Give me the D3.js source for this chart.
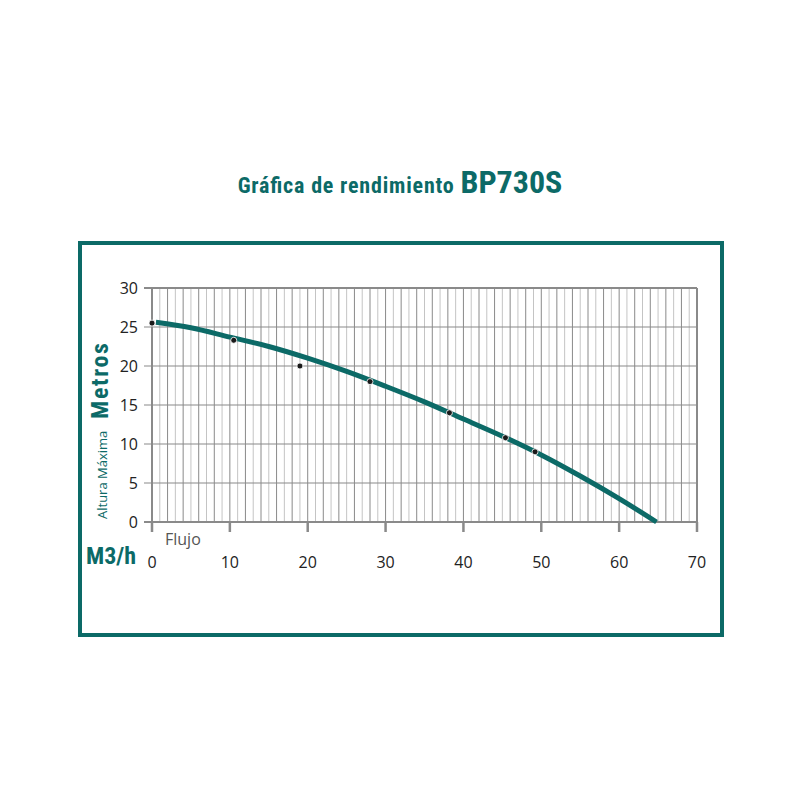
<!DOCTYPE html><html><head><meta charset="utf-8"><script src="https://cdn.jsdelivr.net/npm/d3@7"></script>
<style>body{margin:0;background:#fff}</style></head><body><svg id="c" width="800" height="800"></svg><script>
const curveX=[0.5,5,10,15,20,25,30,35,40,45,50,55,60,64.8];
const curveY=[25.6,24.9,23.7,22.5,21.0,19.3,17.4,15.4,13.2,11.0,8.6,5.9,3.0,0];
const pointX=[0,10.5,19,28,38.2,45.4,49.2];
const pointY=[25.5,23.3,20,18,14,10.8,9];
const xTicks=[0,10,20,30,40,50,60,70];
const yTicks=[0,5,10,15,20,25,30];
const teal="#0c6a67";
const svg=d3.select("#c");
const x=d3.scaleLinear().domain([0,70]).range([152,697]);
const y=d3.scaleLinear().domain([0,30]).range([522,288]);
svg.append("rect").attr("x",80).attr("y",243).attr("width",642).attr("height",392).attr("fill","none").attr("stroke",teal).attr("stroke-width",4);
const t=svg.append("text").attr("x",400).attr("y",193).attr("text-anchor","middle").attr("fill",teal).attr("font-family","Roboto Condensed, Roboto, sans-serif").attr("font-weight","bold");
t.append("tspan").attr("font-size",22).attr("textLength",222).text("Gráfica de rendimiento ");
t.append("tspan").attr("font-size",32).text("BP730S");
const g=svg.append("g");
for(let i=0;i<=70;i++){g.append("line").attr("x1",x(i)).attr("x2",x(i)).attr("y1",y(30)).attr("y2",y(0)).attr("stroke",i%2?"#c4c4c4":"#8a8a8a").attr("stroke-width",1);}
yTicks.forEach(v=>g.append("line").attr("x1",x(0)-8).attr("x2",x(70)).attr("y1",y(v)).attr("y2",y(v)).attr("stroke","#8a8a8a").attr("stroke-width",v==0||v==30?2:1.2));
g.append("line").attr("x1",x(70)).attr("x2",x(70)).attr("y1",y(30)).attr("y2",y(0)).attr("stroke","#8a8a8a").attr("stroke-width",2);
g.append("line").attr("x1",x(0)).attr("x2",x(0)).attr("y1",y(30)).attr("y2",y(0)+8).attr("stroke","#8a8a8a").attr("stroke-width",2);
xTicks.forEach(v=>{g.append("line").attr("x1",x(v)).attr("x2",x(v)).attr("y1",y(0)).attr("y2",y(0)+10).attr("stroke","#8a8a8a").attr("stroke-width",2.5);
svg.append("text").attr("x",x(v)).attr("y",568).attr("text-anchor","middle").attr("font-family","Open Sans, sans-serif").attr("font-size",16).attr("fill","#222").text(v);});
yTicks.forEach(v=>svg.append("text").attr("x",138).attr("y",y(v)+6).attr("text-anchor","end").attr("font-family","Open Sans, sans-serif").attr("font-size",16).attr("fill","#222").text(v));
svg.append("path").datum(curveX.map((d,i)=>[d,curveY[i]])).attr("d",d3.line().x(d=>x(d[0])).y(d=>y(d[1])).curve(d3.curveCatmullRom)).attr("fill","none").attr("stroke",teal).attr("stroke-width",5);
pointX.forEach((d,i)=>svg.append("circle").attr("cx",x(d)).attr("cy",y(pointY[i])).attr("r",3).attr("fill","#1a1a1a").attr("stroke","#fff").attr("stroke-width",0.8));
svg.append("text").attr("x",165).attr("y",545).attr("font-family","Open Sans, sans-serif").attr("font-size",16).attr("fill","#555").text("Flujo");
svg.append("text").attr("x",86).attr("y",564).attr("font-family","Roboto Condensed, Roboto, sans-serif").attr("font-weight","bold").attr("font-size",24).attr("textLength",50).attr("fill",teal).text("M3/h");
svg.append("text").attr("transform","translate(107,519) rotate(-90)").attr("font-family","Open Sans, sans-serif").attr("font-size",13).attr("fill",teal).text("Altura Máxima");
svg.append("text").attr("transform","translate(108,419) rotate(-90)").attr("font-family","Roboto Condensed, Roboto, sans-serif").attr("font-weight","bold").attr("font-size",24).attr("textLength",76).attr("fill",teal).text("Metros");
</script></body></html>
